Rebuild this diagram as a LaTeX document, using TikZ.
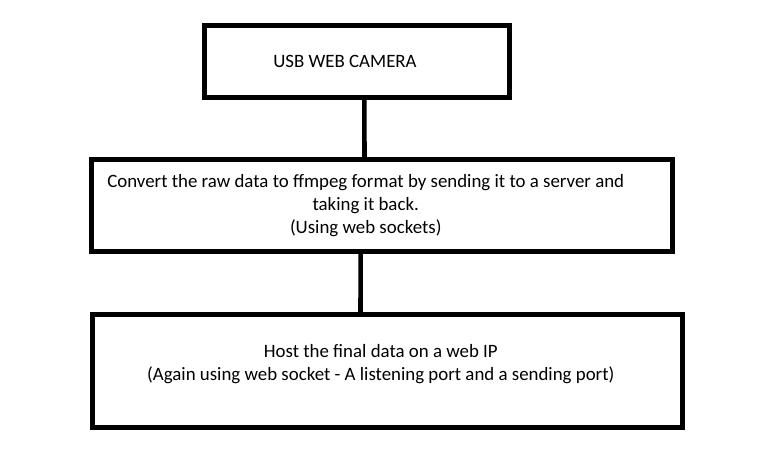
\documentclass[tikz,border=0pt]{standalone}
\usepackage{fontspec}
\setmainfont{Carlito}
\usetikzlibrary{positioning}

\tikzset{
  block/.style={draw=black, line width=3.75pt, fill=white, inner sep=0pt},
  blocktxt/.style={font=\fontsize{14.15}{17.1}\selectfont, align=center, inner sep=0pt},
  link/.style={draw=black, line width=3.4pt}
}

\begin{document}
\begin{tikzpicture}[x=0.75pt, y=-0.75pt]
\useasboundingbox (0,0) rectangle (771,469);

\node[block, minimum width=228.75pt, minimum height=54pt,
  label={[blocktxt, xshift=-9pt]center:USB WEB CAMERA}] (camera) at (357,61.5) {};
\node[block, minimum width=436.1pt, minimum height=69pt,
  label={[blocktxt, xshift=-12pt]center:Convert the raw data to ffmpeg format by sending it to a server and\\ taking it back.\\ (Using web sockets)}] (convert) at (381.75,205.5) {};
\node[block, minimum width=442.5pt, minimum height=84.75pt,
  label={[blocktxt, xshift=-5pt, yshift=5pt]center:Host the final data on a web IP\\ (Again using web socket - A listening port and a sending port)}] (host) at (387.5,371) {};

\draw[link] ([xshift=5.6pt]camera.south) -- ([xshift=-12.95pt]convert.north);
\draw[link] ([xshift=-15.9pt]convert.south) -- ([xshift=-20.25pt]host.north);
\end{tikzpicture}
\end{document}
